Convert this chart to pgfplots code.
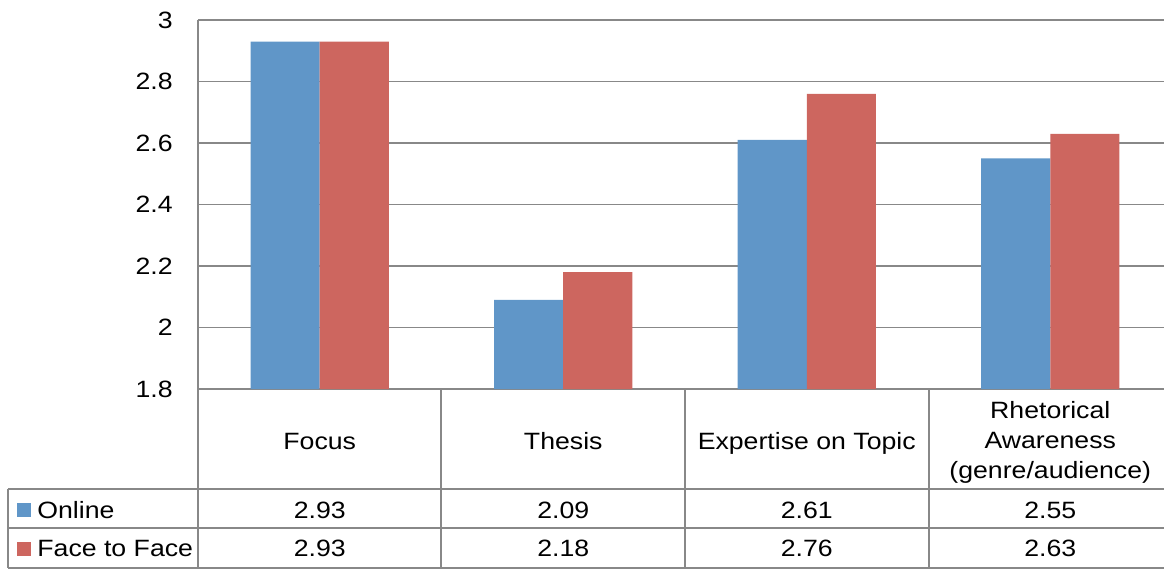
\documentclass[border=0pt]{standalone}
\usepackage{pgfplots}
\usepackage{pgfplotstable}
\pgfplotsset{compat=1.18}
\usepackage{fontspec}
\setmainfont{Liberation Sans}[FakeStretch=1.13]

\definecolor{onlineblue}{HTML}{6096C8}
\definecolor{facered}{HTML}{CD665F}
\definecolor{gridgrey}{HTML}{888888}

% mean scores per criterion
\pgfplotstableread{
idx online face
0   2.93   2.93
1   2.09   2.18
2   2.61   2.76
3   2.55   2.63
}\scores

\begin{document}
\fontsize{11.8}{14}\selectfont
\begin{tikzpicture}
\useasboundingbox (-99pt,-90pt) rectangle (483pt,194.5pt);
\begin{axis}[
  at={(0pt,0pt)}, anchor=south west,
  scale only axis, width=487pt, height=184.5pt,
  xmin=-0.5, xmax=3.5, ymin=1.8, ymax=3,
  ytick={1.8,2,2.2,2.4,2.6,2.8,3},
  xtick=\empty,
  axis x line*=bottom, axis y line*=left,
  axis line style={gridgrey, line width=1pt, -},
  ymajorgrids, grid style={gridgrey, line width=0.8pt},
  major tick length=0pt,
  /pgf/number format/assume math mode=true,
  yticklabel style={anchor=east, inner sep=0pt, xshift=-12.5pt, font=\fontsize{11.8}{14}\selectfont},
  clip=true,
]
\addplot[ybar, bar width=0.2834, bar shift=-0.1417, fill=onlineblue, draw=none]
  table[x=idx, y=online] {\scores};
\addplot[ybar, bar width=0.2834, bar shift=0.1417, fill=facered, draw=none]
  table[x=idx, y=face] {\scores};
\end{axis}

% data table below the plot
\begin{scope}[gridgrey, line width=1pt]
  \draw (-95pt,-50pt) -- (487pt,-50pt);
  \draw (-95pt,-69.5pt) -- (487pt,-69.5pt);
  \draw (-95pt,-89.5pt) -- (487pt,-89.5pt);
  \draw (-95pt,-50pt) -- (-95pt,-89.5pt);
  \foreach \k in {0,1,2,3} \draw ({121.75pt*\k},0pt) -- ({121.75pt*\k},-89.5pt);
\end{scope}

\node[anchor=base] at (60.875pt,-30.2pt) {Focus};
\node[anchor=base] at (182.625pt,-30.2pt) {Thesis};
\node[anchor=base] at (304.375pt,-30.2pt) {Expertise on Topic};
\node[anchor=base] at (426.125pt,-14.7pt) {Rhetorical};
\node[anchor=base] at (426.125pt,-29.7pt) {Awareness};
\node[anchor=base] at (426.125pt,-44.7pt) {(genre/audience)};

\fill[onlineblue] (-90.5pt,-63.8pt) rectangle (-83.5pt,-56.8pt);
\fill[facered] (-90.5pt,-83.3pt) rectangle (-83.5pt,-76.3pt);
\node[anchor=base west, inner sep=0pt] at (-80.5pt,-64.7pt) {Online};
\node[anchor=base west, inner sep=0pt] at (-80.5pt,-83.8pt) {Face to Face};

\foreach \i in {0,1,2,3} {
  \pgfplotstablegetelem{\i}{online}\of\scores
  \node[anchor=base] at ({121.75pt*\i+60.875pt},-64.7pt) {\pgfplotsretval};
  \pgfplotstablegetelem{\i}{face}\of\scores
  \node[anchor=base] at ({121.75pt*\i+60.875pt},-83.8pt) {\pgfplotsretval};
}
\end{tikzpicture}
\end{document}
